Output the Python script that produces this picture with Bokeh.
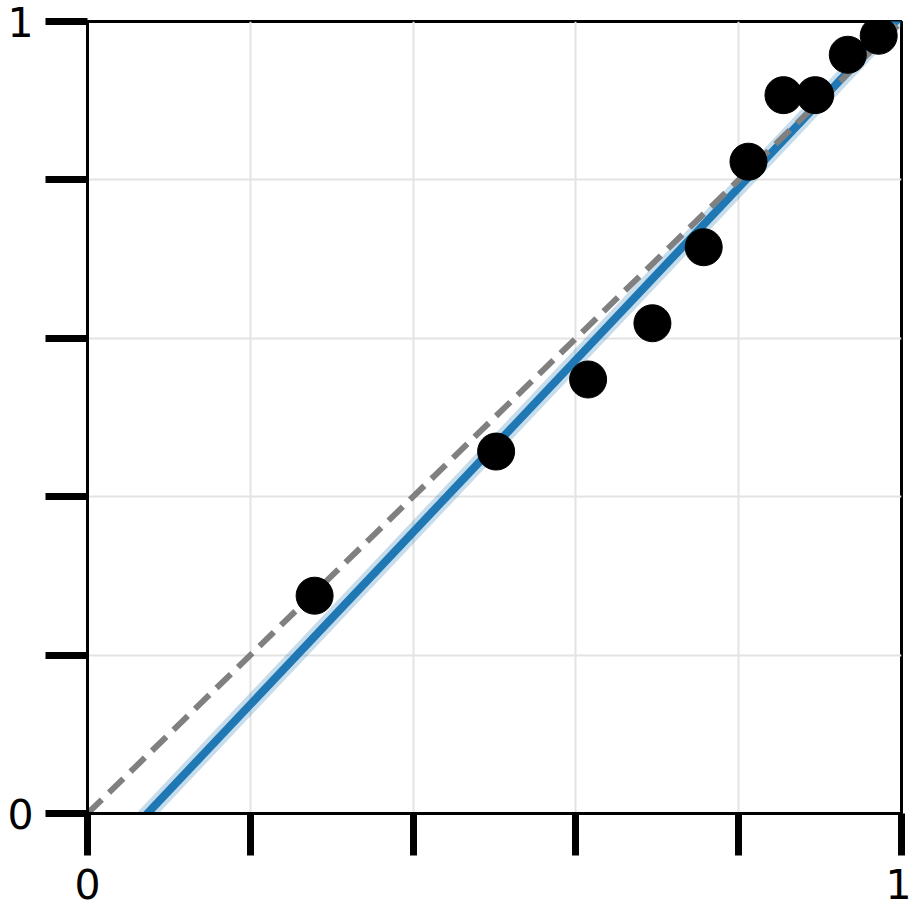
from bokeh.plotting import figure
from bokeh.models import Range1d, FixedTicker
from bokeh.embed import file_html
from bokeh.resources import INLINE

# data
px = [0.279, 0.502, 0.615, 0.694, 0.757, 0.812, 0.855, 0.894, 0.934, 0.972]
py = [0.275, 0.457, 0.548, 0.619, 0.715, 0.823, 0.907, 0.907, 0.958, 0.982]
fit_x = [0.0, 1.0]
fit_y = [-0.080, 1.008]
band_lo = [-0.095, 0.993]
band_hi = [-0.065, 1.023]
diag_x = [0.0, 1.0]
diag_y = [0.0, 1.0]
ticks = [0, 0.2, 0.4, 0.6, 0.8, 1]
tick_labels = {0: "0", 0.2: "", 0.4: "", 0.6: "", 0.8: "", 1: "1"}

p = figure(width=911, height=908, output_backend="svg", toolbar_location=None,
           x_range=Range1d(0, 1), y_range=Range1d(0, 1),
           min_border_left=87, min_border_top=21, min_border_right=10, min_border_bottom=95)
p.frame_width = 814
p.frame_height = 792

p.varea(x=fit_x, y1=band_lo, y2=band_hi, fill_color="#1f77b4", fill_alpha=0.25)
p.line(fit_x, fit_y, line_color="#1f77b4", line_width=8)
p.line(diag_x, diag_y, line_color="#808080", line_width=6, line_dash="20 10")
p.scatter(px, py, size=37, fill_color="black", line_color="black")

for ax in (p.xaxis[0], p.yaxis[0]):
    ax.ticker = FixedTicker(ticks=ticks)
    ax.major_label_overrides = tick_labels
    ax.major_tick_out = 42
    ax.major_tick_in = 0
    ax.major_tick_line_width = 7
    ax.major_tick_line_color = "black"
    ax.minor_tick_line_color = None
    ax.axis_line_width = 3
    ax.axis_line_color = "black"
    ax.major_label_text_font = "DejaVu Sans"
    ax.major_label_text_font_size = "41px"
    ax.major_label_text_color = "black"
p.xaxis.major_label_standoff = 13
p.yaxis.major_label_standoff = 12

p.xgrid.ticker = FixedTicker(ticks=ticks)
p.ygrid.ticker = FixedTicker(ticks=ticks)
p.grid.grid_line_color = "#e3e3e3"
p.grid.grid_line_width = 2
p.outline_line_color = "black"
p.outline_line_width = 3
p.outline_line_alpha = 1

open("out.html", "w").write(file_html(p, INLINE))
